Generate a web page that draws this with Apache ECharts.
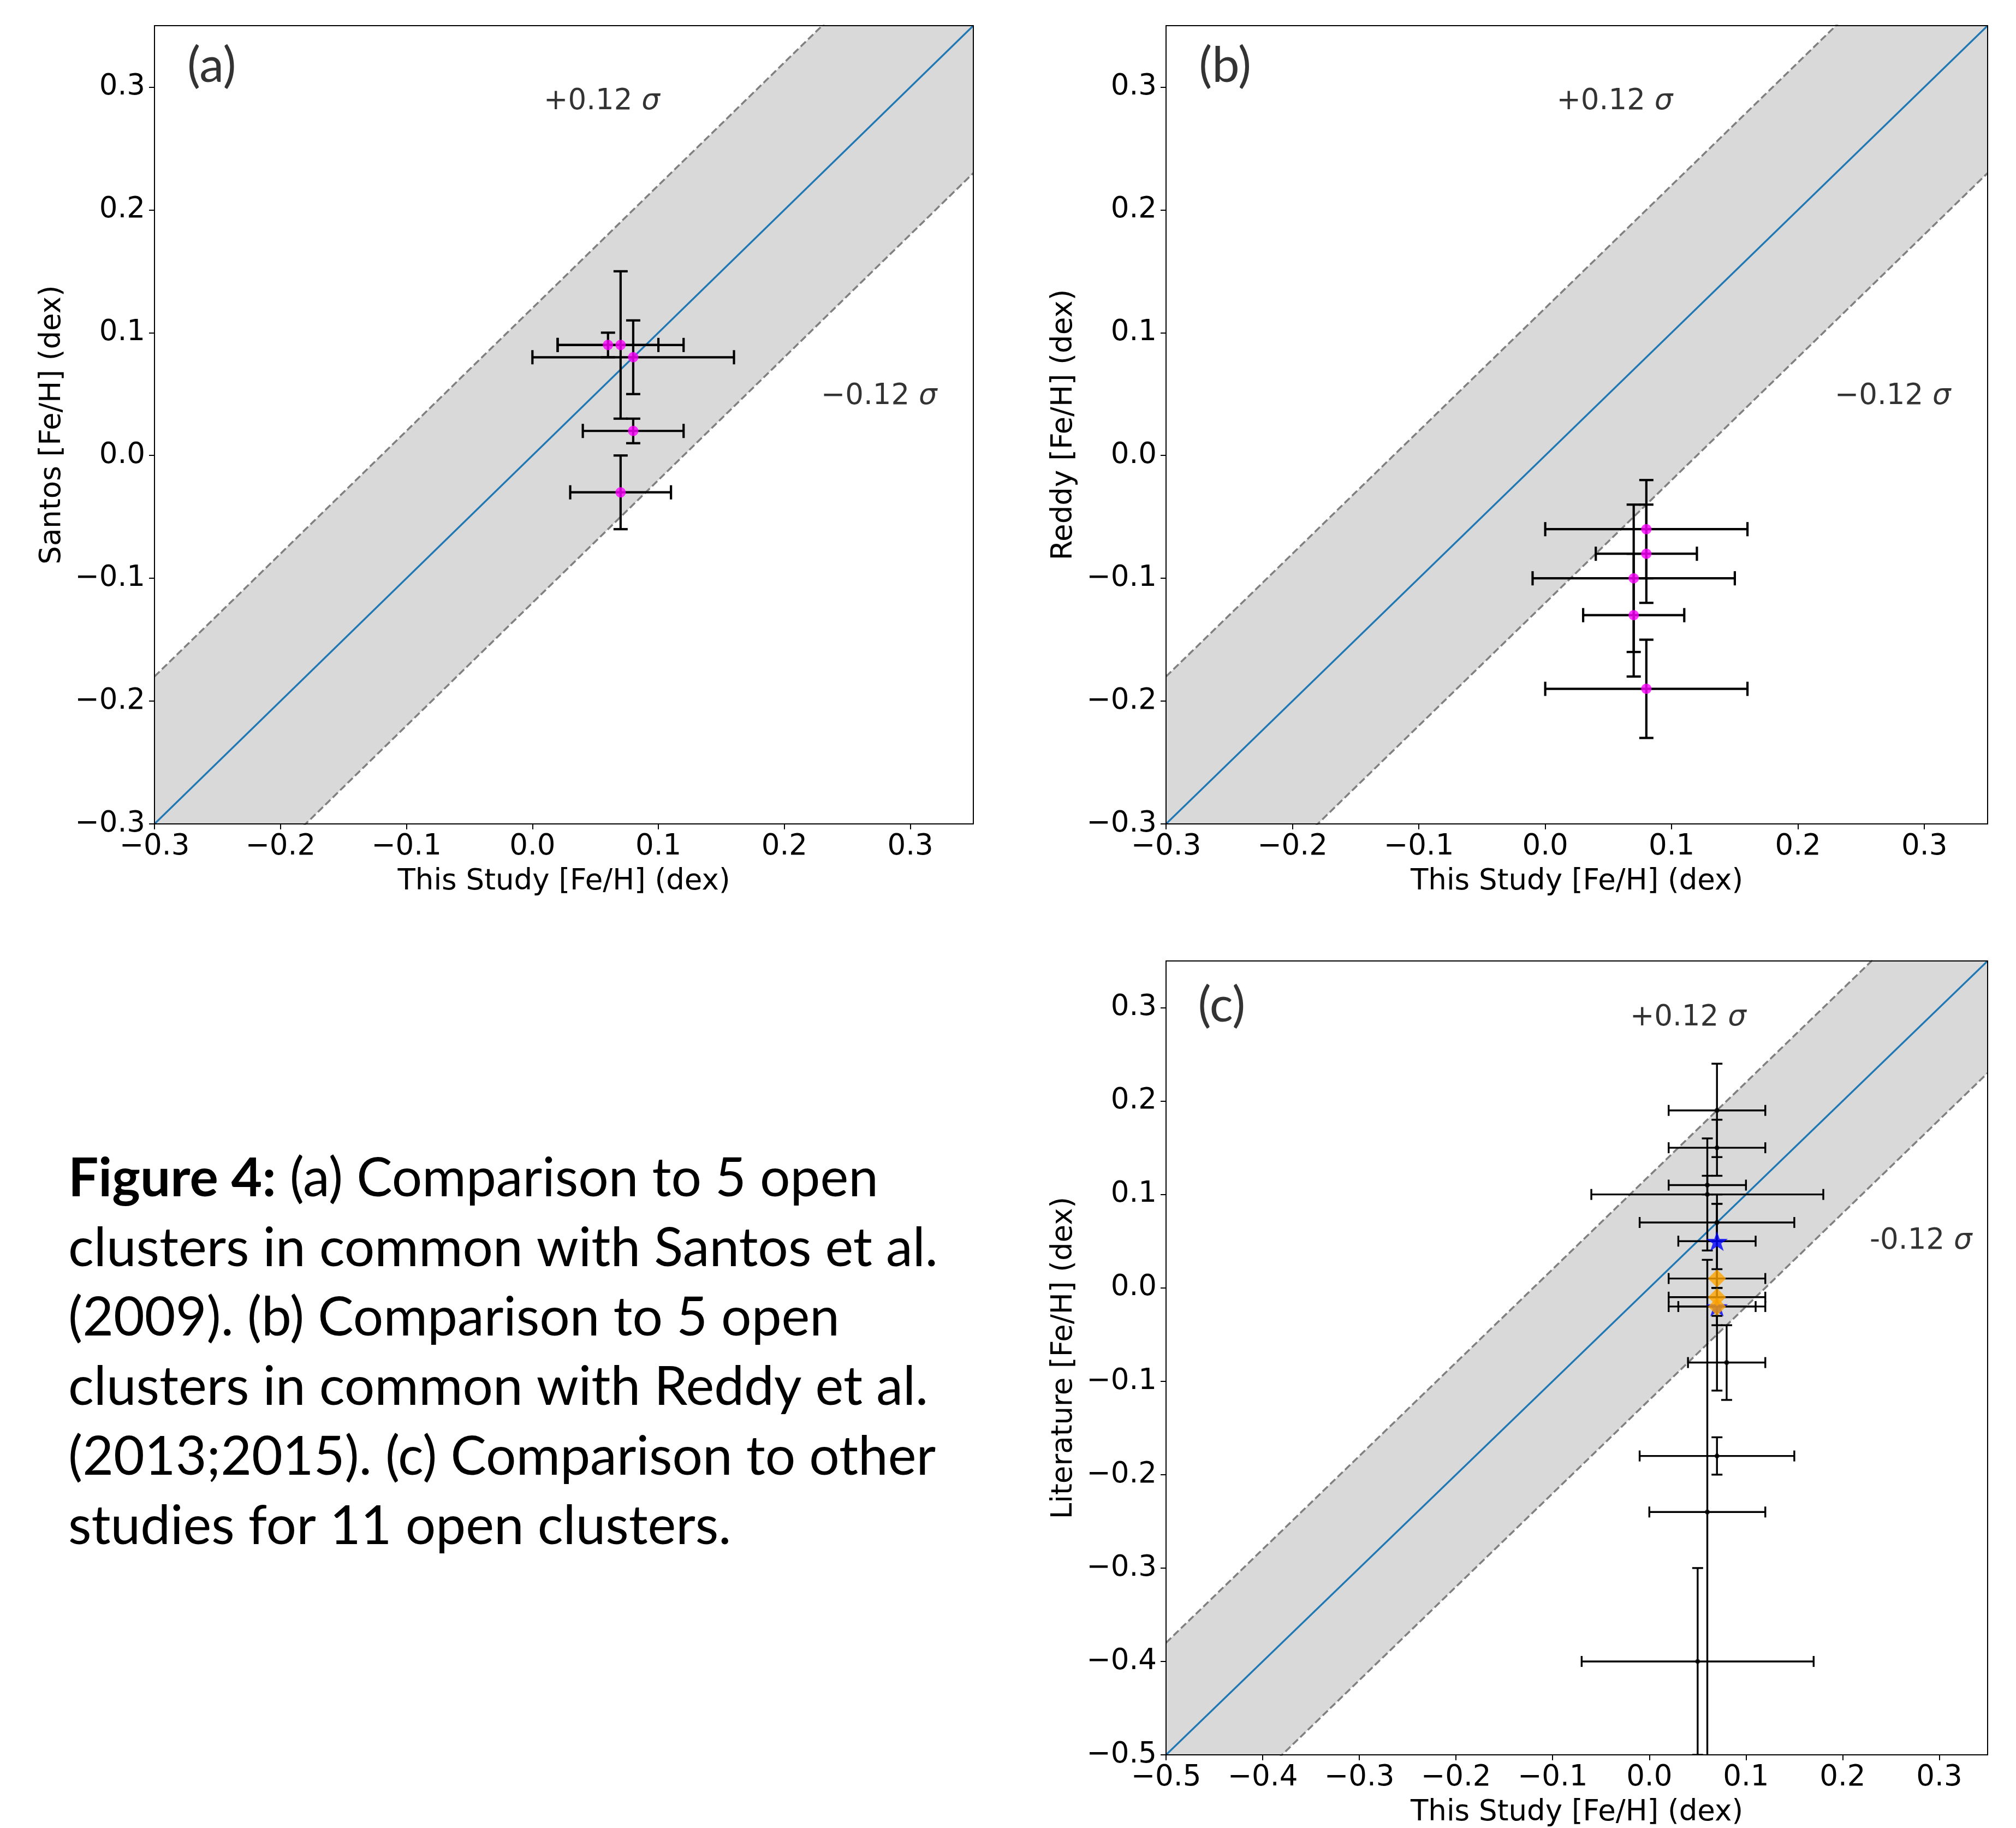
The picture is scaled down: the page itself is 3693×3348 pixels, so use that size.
<!DOCTYPE html>
<html>
<head>
<meta charset="utf-8">
<script src="https://cdn.jsdelivr.net/npm/echarts@6/dist/echarts.min.js"></script>
<style>
  html, body { margin: 0; padding: 0; background: #fff; }
  #chart { width: 3693px; height: 3348px; }
</style>
</head>
<body>
<div id="chart"></div>
<script>
// ---- data ----
// (a) Santos et al. (2009)
const santosThis = [0.06, 0.07, 0.08, 0.08, 0.07];
const santosLit = [0.09, 0.09, 0.08, 0.02, -0.03];
const santosThisErr = [0.04, 0.05, 0.08, 0.04, 0.04];
const santosLitErr = [0.01, 0.06, 0.03, 0.01, 0.03];

// (b) Reddy et al. (2013;2015)
const reddyThis = [0.08, 0.08, 0.07, 0.07, 0.08];
const reddyLit = [-0.06, -0.08, -0.10, -0.13, -0.19];
const reddyThisErr = [0.08, 0.04, 0.08, 0.04, 0.08];
const reddyLitErr = [0.04, 0.04, 0.06, 0.05, 0.04];

// (c) other studies: black dots, blue stars, orange diamonds
const litThis = [0.07, 0.07, 0.06, 0.06, 0.07, 0.08, 0.07, 0.06, 0.05];
const litLit = [0.19, 0.15, 0.11, 0.10, 0.07, -0.08, -0.18, -0.24, -0.40];
const litThisErr = [0.05, 0.05, 0.04, 0.12, 0.08, 0.04, 0.08, 0.06, 0.12];
const litLitErr = [0.05, 0.03, 0.01, 0.06, 0.02, 0.04, 0.02, 0.27, 0.10];

const starThis = [0.07, 0.07];
const starLit = [0.05, -0.02];
const starThisErr = [0.04, 0.04];
const starLitErr = [0.05, 0.01];

const diaThis = [0.07, 0.07, 0.07];
const diaLit = [0.01, -0.01, -0.02];
const diaThisErr = [0.05, 0.05, 0.05];
const diaLitErr = [0.01, 0.10, 0.02];

const sigma = 0.12;
const ticksAB = [-0.3, -0.2, -0.1, 0.0, 0.1, 0.2, 0.3];
const ticksC = [-0.5, -0.4, -0.3, -0.2, -0.1, 0.0, 0.1, 0.2, 0.3];
const axisMinAB = -0.3;
const axisMinC = -0.5;
const axisMax = 0.35;

const captionLines = [
  '{b|Figure 4:} (a) Comparison to 5 open',
  'clusters in common with Santos et al.',
  '(2009). (b) Comparison to 5 open',
  'clusters in common with Reddy et al.',
  '(2013;2015). (c) Comparison to other',
  'studies for 11 open clusters.'
];

// ---- helpers ----
const FONT = 'DejaVu Sans';
const FS = 53;
const rows = (xs, ys, exs, eys) => xs.map((x, i) => [x, ys[i], exs[i], eys[i]]);
const fmt = v => (v < -1e-9 ? '\u2212' : '') + Math.abs(v).toFixed(1);

const grids = [
  { left: 283, top: 47, width: 1500, height: 1462 },
  { left: 2136, top: 47, width: 1505, height: 1462 },
  { left: 2136, top: 1760, width: 1505, height: 1467 }
];
const mins = [axisMinAB, axisMinAB, axisMinC];
const ticks = [ticksAB, ticksAB, ticksC];
const yNames = ['Santos [Fe/H] (dex)', 'Reddy [Fe/H] (dex)', 'Literature [Fe/H] (dex)'];

const frame = { color: '#000', width: 2 };

const xAxes = [];
const yAxes = [];
grids.forEach((g, i) => {
  xAxes.push({
    gridIndex: i, type: 'value', min: mins[i], max: axisMax, interval: 0.1, z: 5,
    splitLine: { show: false },
    axisLine: { onZero: false, lineStyle: frame },
    axisTick: { length: 10, lineStyle: frame, customValues: ticks[i] },
    axisLabel: { customValues: ticks[i], formatter: fmt, fontFamily: FONT, fontSize: FS, color: '#000', margin: 16 },
    name: 'This Study [Fe/H] (dex)', nameLocation: 'middle', nameGap: 80,
    nameTextStyle: { fontFamily: FONT, fontSize: FS, color: '#000' }
  });
  yAxes.push({
    gridIndex: i, type: 'value', min: mins[i], max: axisMax, interval: 0.1, z: 5,
    splitLine: { show: false },
    axisLine: { onZero: false, lineStyle: frame },
    axisTick: { length: 10, lineStyle: frame, customValues: ticks[i] },
    axisLabel: { customValues: ticks[i], formatter: fmt, fontFamily: FONT, fontSize: FS, color: '#000', margin: 17 },
    name: yNames[i], nameLocation: 'middle', nameGap: 160,
    nameTextStyle: { fontFamily: FONT, fontSize: FS, color: '#000' }
  });
});
// top / right spines
grids.forEach((g, i) => {
  xAxes.push({
    gridIndex: i, type: 'value', position: 'top', min: mins[i], max: axisMax, z: 5,
    splitLine: { show: false }, axisTick: { show: false }, axisLabel: { show: false },
    axisLine: { onZero: false, lineStyle: frame }
  });
  yAxes.push({
    gridIndex: i, type: 'value', position: 'right', min: mins[i], max: axisMax, z: 5,
    splitLine: { show: false }, axisTick: { show: false }, axisLabel: { show: false },
    axisLine: { onZero: false, lineStyle: frame }
  });
});

function errorBarSeries(i, data, capHalf, lw) {
  return {
    type: 'custom', xAxisIndex: i, yAxisIndex: i, clip: true, silent: true, z: 4,
    encode: { x: 0, y: 1 },
    data,
    renderItem(params, api) {
      const x = api.value(0), y = api.value(1), ex = api.value(2), ey = api.value(3);
      const l = api.coord([x - ex, y]), r = api.coord([x + ex, y]);
      const t = api.coord([x, y + ey]), b = api.coord([x, y - ey]);
      const style = { stroke: '#000', lineWidth: lw };
      const seg = (x1, y1, x2, y2) => ({ type: 'line', shape: { x1, y1, x2, y2 }, style });
      return {
        type: 'group',
        children: [
          seg(l[0], l[1], r[0], r[1]),
          seg(t[0], t[1], b[0], b[1]),
          seg(l[0], l[1] - capHalf, l[0], l[1] + capHalf),
          seg(r[0], r[1] - capHalf, r[0], r[1] + capHalf),
          seg(t[0] - capHalf, t[1], t[0] + capHalf, t[1]),
          seg(b[0] - capHalf, b[1], b[0] + capHalf, b[1])
        ]
      };
    }
  };
}

function bandSeries(i) {
  const lo = mins[i], hi = axisMax;
  return [
    {
      type: 'custom', xAxisIndex: i, yAxisIndex: i, clip: true, silent: true, z: 1,
      data: [[lo, hi]],
      renderItem(params, api) {
        const pts = [
          api.coord([lo, lo - sigma]), api.coord([hi, hi - sigma]),
          api.coord([hi, hi + sigma]), api.coord([lo, lo + sigma])
        ];
        return { type: 'polygon', shape: { points: pts }, style: { fill: '#d9d9d9' } };
      }
    },
    {
      type: 'line', xAxisIndex: i, yAxisIndex: i, symbol: 'none', silent: true, z: 2,
      data: [[lo, lo + sigma], [hi, hi + sigma]],
      lineStyle: { color: '#808080', width: 3.5, type: [13, 6] }
    },
    {
      type: 'line', xAxisIndex: i, yAxisIndex: i, symbol: 'none', silent: true, z: 2,
      data: [[lo, lo - sigma], [hi, hi - sigma]],
      lineStyle: { color: '#808080', width: 3.5, type: [13, 6] }
    },
    {
      type: 'line', xAxisIndex: i, yAxisIndex: i, symbol: 'none', silent: true, z: 3,
      data: [[lo, lo], [hi, hi]],
      lineStyle: { color: '#1f77b4', width: 3.2 }
    }
  ];
}

function textSeries(i, x, y, text, rich) {
  return {
    type: 'scatter', xAxisIndex: i, yAxisIndex: i, symbolSize: 0, silent: true, z: 6,
    data: [[x, y]],
    label: { show: true, position: 'right', distance: 0, formatter: () => text, rich }
  };
}

const sigmaRich = {
  n: { fontFamily: FONT, fontSize: FS, color: '#000' },
  s: { fontFamily: FONT, fontSize: FS, fontStyle: 'italic', color: '#000' }
};
const panelRich = { p: { fontFamily: 'Lato', fontSize: 90, color: '#000' } };

const starPath = 'path://M50,0 L61.2,34.5 L97.6,34.5 L68.2,55.9 L79.4,90.5 L50,69.1 L20.6,90.5 L31.8,55.9 L2.4,34.5 L38.8,34.5 Z';

const pts = (xs, ys) => xs.map((x, k) => [x, ys[k]]);

const series = [
  ...bandSeries(0), ...bandSeries(1), ...bandSeries(2),

  errorBarSeries(0, rows(santosThis, santosLit, santosThisErr, santosLitErr), 13, 4.2),
  { type: 'scatter', xAxisIndex: 0, yAxisIndex: 0, z: 5, symbolSize: 19,
    itemStyle: { color: '#ff00ff' }, data: pts(santosThis, santosLit) },

  errorBarSeries(1, rows(reddyThis, reddyLit, reddyThisErr, reddyLitErr), 13, 4.2),
  { type: 'scatter', xAxisIndex: 1, yAxisIndex: 1, z: 5, symbolSize: 19,
    itemStyle: { color: '#ff00ff' }, data: pts(reddyThis, reddyLit) },

  errorBarSeries(2, rows(litThis, litLit, litThisErr, litLitErr), 10, 3.4),
  errorBarSeries(2, rows(starThis, starLit, starThisErr, starLitErr), 10, 3.4),
  errorBarSeries(2, rows(diaThis, diaLit, diaThisErr, diaLitErr), 10, 3.4),
  { type: 'scatter', xAxisIndex: 2, yAxisIndex: 2, z: 5, symbolSize: 9,
    itemStyle: { color: '#000' }, data: pts(litThis, litLit) },
  { type: 'scatter', xAxisIndex: 2, yAxisIndex: 2, z: 5, symbol: starPath, symbolKeepAspect: true,
    symbolSize: [40, 38], itemStyle: { color: '#0000ff' }, data: pts(starThis, starLit) },
  { type: 'scatter', xAxisIndex: 2, yAxisIndex: 2, z: 5, symbol: 'diamond', symbolSize: 33,
    itemStyle: { color: '#ffa500' }, data: pts(diaThis, diaLit) },

  // annotations, placed in data coordinates like ax.text
  textSeries(0, -0.274, 0.317, '{p|(a)}', panelRich),
  textSeries(0, 0.009, 0.288, '{n|+0.12 }{s|σ}', sigmaRich),
  textSeries(0, 0.229, 0.048, '{n|\u22120.12 }{s|σ}', sigmaRich),
  textSeries(1, -0.274, 0.317, '{p|(b)}', panelRich),
  textSeries(1, 0.009, 0.288, '{n|+0.12 }{s|σ}', sigmaRich),
  textSeries(1, 0.229, 0.048, '{n|\u22120.12 }{s|σ}', sigmaRich),
  textSeries(2, -0.467, 0.302, '{p|(c)}', panelRich),
  textSeries(2, -0.02, 0.289, '{n|+0.12 }{s|σ}', sigmaRich),
  textSeries(2, 0.228, 0.050, '{n|-0.12 }{s|σ}', sigmaRich)
];

const captionY = [2159, 2287, 2414, 2541, 2669, 2796];

const chart = echarts.init(document.getElementById('chart'), null, { renderer: 'canvas' });
chart.setOption({
  animation: false,
  backgroundColor: '#fff',
  textStyle: { fontFamily: FONT },
  grid: grids,
  xAxis: xAxes,
  yAxis: yAxes,
  series,
  graphic: captionLines.map((t, k) => ({
    type: 'text', x: 125, y: captionY[k], silent: true,
    style: {
      text: t, fontFamily: 'Lato', fontSize: 98, fill: '#000', verticalAlign: 'middle',
      rich: { b: { fontFamily: 'Lato', fontSize: 98, fontWeight: 'bold' } }
    }
  }))
});
</script>
</body>
</html>
